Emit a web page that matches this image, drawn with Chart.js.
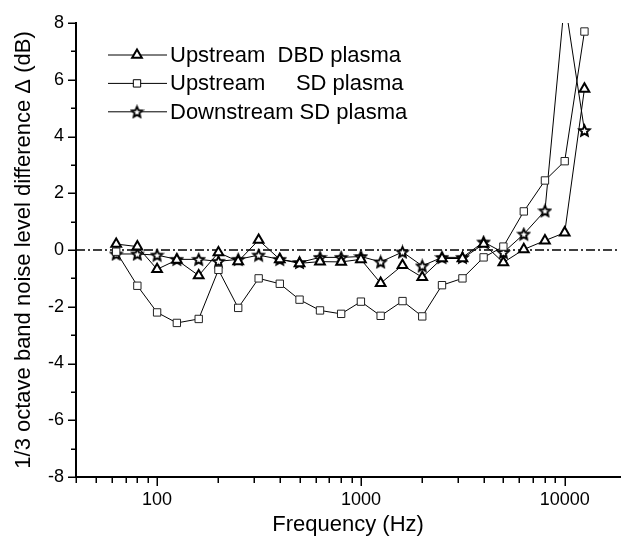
<!DOCTYPE html>
<html>
<head>
<meta charset="utf-8">
<script src="https://cdn.jsdelivr.net/npm/chart.js@4.4.0/dist/chart.umd.min.js"></script>
<style>
  html, body { margin: 0; padding: 0; background: #fff; }
</style>
</head>
<body>
<canvas id="noiseChart" width="628" height="540"></canvas>
<script>
// -- 1/3 octave band centre frequencies (Hz) --
const bandFreqs = [63, 80, 100, 125, 160, 200, 250, 315, 400, 500, 630, 800,
  1000, 1250, 1600, 2000, 2500, 3150, 4000, 5000, 6300, 8000, 10000, 12500];

// -- noise level difference (dB) per band --
const upstreamDBD = [0.21, 0.12, -0.68, -0.35, -0.9, -0.09, -0.4, 0.35, -0.33, -0.47, -0.41, -0.42,
  -0.33, -1.17, -0.54, -0.96, -0.3, -0.3, 0.21, -0.44, 0.02, 0.33, 0.61, 5.68];
const upstreamSD = [-0.06, -1.26, -2.2, -2.57, -2.43, -0.7, -2.04, -1.0, -1.19, -1.75, -2.13, -2.25,
  -1.82, -2.32, -1.8, -2.34, -1.24, -1.0, -0.26, 0.12, 1.36, 2.45, 3.13, 7.7];
const downstreamSD = [-0.14, -0.14, -0.18, -0.33, -0.33, -0.4, -0.33, -0.18, -0.33, -0.44, -0.26, -0.26,
  -0.23, -0.42, -0.07, -0.56, -0.26, -0.26, 0.28, -0.09, 0.56, 1.38, 8.8, 4.21];

// -- reference line at 0 dB across the whole axis --
const zeroLineFreqs = [40, 18700];
const zeroLineValues = [0, 0];

// -- axis ticks --
const xLabelledTicks = [100, 1000, 10000];
const xDecades = [10, 100, 1000];
const yRange = [-8, 8];
const yLabelStep = 2;

const legendLabels = [
  "Upstream  DBD plasma",
  "Upstream     SD plasma",
  "Downstream SD plasma",
];

const FONT = '"Liberation Sans", Arial, Helvetica, sans-serif';

function toPoints(xs, ys) {
  return xs.map((x, i) => ({ x: x, y: ys[i] }));
}

// -- hollow five point star used as marker --
function makeStar() {
  const c = document.createElement("canvas");
  c.width = 15;
  c.height = 15;
  const g = c.getContext("2d");
  g.beginPath();
  for (let i = 0; i < 10; i++) {
    const r = i % 2 === 0 ? 5.6 : 2.6;
    const a = -Math.PI / 2 + (i * Math.PI) / 5;
    const px = 7.5 + r * Math.cos(a);
    const py = 8 + r * Math.sin(a);
    if (i === 0) g.moveTo(px, py);
    else g.lineTo(px, py);
  }
  g.closePath();
  g.fillStyle = "#fff";
  g.fill();
  g.lineWidth = 1.9;
  g.lineJoin = "miter";
  g.strokeStyle = "#000";
  g.stroke();
  return c;
}
const starMarker = makeStar();

// -- x tick positions: 40..90, 100..900, 1000..9000, 10000 --
const xTickValues = [];
xDecades.forEach((d) => {
  for (let m = 1; m <= 9; m++) {
    if (d * m >= zeroLineFreqs[0]) xTickValues.push(d * m);
  }
});
xTickValues.push(10000);

const yTickValues = [];
for (let v = yRange[0]; v <= yRange[1]; v++) yTickValues.push(v);

// -- outward ticks, long on labelled values, short otherwise --
const axisTicks = {
  id: "axisTicks",
  afterDraw(chart) {
    const { ctx, chartArea, scales } = chart;
    ctx.save();
    ctx.strokeStyle = "#000";
    ctx.lineWidth = 1.5;
    ctx.beginPath();
    xTickValues.forEach((v) => {
      const px = Math.round(scales.x.getPixelForValue(v)) + 0.25;
      const len = xLabelledTicks.includes(v) ? 9 : 6;
      ctx.moveTo(px, chartArea.bottom);
      ctx.lineTo(px, chartArea.bottom + len);
    });
    yTickValues.forEach((v) => {
      const py = Math.round(scales.y.getPixelForValue(v)) + 0.25;
      const len = v % yLabelStep === 0 ? 8 : 5;
      ctx.moveTo(chartArea.left + 1, py);
      ctx.lineTo(chartArea.left - len, py);
    });
    ctx.stroke();
    ctx.restore();
  },
};

// -- legend drawn inside the plot, top left --
const insideLegend = {
  id: "insideLegend",
  afterDraw(chart) {
    const ctx = chart.ctx;
    ctx.save();
    legendLabels.forEach((label, i) => {
      const ds = chart.data.datasets[i];
      const y = 55 + i * 28.4;
      ctx.strokeStyle = "#000";
      ctx.lineWidth = 1;
      ctx.beginPath();
      ctx.moveTo(108, y);
      ctx.lineTo(167, y);
      ctx.stroke();
      ctx.fillStyle = "#fff";
      ctx.lineWidth = ds.pointBorderWidth;
      Chart.helpers.drawPoint(ctx, {
        pointStyle: ds.pointStyle,
        radius: ds.pointRadius,
        borderWidth: ds.pointBorderWidth,
        rotation: 0,
      }, 137, y);
      ctx.fillStyle = "#000";
      ctx.font = "22px " + FONT;
      ctx.textBaseline = "middle";
      ctx.textAlign = "left";
      ctx.fillText(label, 170, y + 1);
    });
    ctx.restore();
  },
};

const ctx = document.getElementById("noiseChart").getContext("2d");

new Chart(ctx, {
  type: "line",
  data: {
    datasets: [
      {
        label: legendLabels[0],
        data: toPoints(bandFreqs, upstreamDBD),
        borderColor: "#000",
        borderWidth: 1,
        pointStyle: "triangle",
        pointRadius: 5.6,
        pointBorderWidth: 2,
        pointBackgroundColor: "#fff",
        pointBorderColor: "#000",
      },
      {
        label: legendLabels[1],
        data: toPoints(bandFreqs, upstreamSD),
        borderColor: "#000",
        borderWidth: 1,
        pointStyle: "rect",
        pointRadius: 5.2,
        pointBorderWidth: 1,
        pointBackgroundColor: "#fff",
        pointBorderColor: "#222",
      },
      {
        label: legendLabels[2],
        data: toPoints(bandFreqs, downstreamSD),
        borderColor: "#000",
        borderWidth: 1,
        pointStyle: starMarker,
        pointRadius: 6,
        pointBorderWidth: 1.9,
        pointBackgroundColor: "#fff",
        pointBorderColor: "#000",
      },
      {
        label: "zero",
        data: toPoints(zeroLineFreqs, zeroLineValues),
        borderColor: "#000",
        borderWidth: 1.4,
        borderDash: [9, 3, 2, 3],
        pointRadius: 0,
      },
    ],
  },
  options: {
    responsive: false,
    animation: false,
    events: [],
    layout: { padding: { top: 23, right: 0, bottom: 0, left: 0 } },
    plugins: {
      legend: { display: false },
      tooltip: { enabled: false },
    },
    scales: {
      x: {
        type: "logarithmic",
        min: zeroLineFreqs[0],
        max: zeroLineFreqs[1],
        afterBuildTicks: (scale) => {
          scale.ticks = xTickValues.map((v) => ({ value: v }));
        },
        afterFit: (scale) => {
          scale.height = 63;
        },
        border: { display: true, color: "#000", width: 2 },
        grid: {
          drawOnChartArea: false,
          tickLength: 9,
          tickColor: "rgba(0,0,0,0)",
        },
        ticks: {
          autoSkip: false,
          maxRotation: 0,
          padding: 3,
          color: "#000",
          font: { family: FONT, size: 18 },
          callback: (value) =>
            xLabelledTicks.includes(value) ? String(value) : "",
        },
        title: {
          display: true,
          text: "Frequency (Hz)",
          color: "#000",
          font: { family: FONT, size: 22 },
          padding: { top: 0, bottom: 2 },
        },
      },
      y: {
        min: yRange[0],
        max: yRange[1],
        afterFit: (scale) => {
          scale.width = 76;
        },
        border: { display: true, color: "#000", width: 2 },
        grid: {
          drawOnChartArea: false,
          tickLength: 8,
          tickColor: "rgba(0,0,0,0)",
        },
        ticks: {
          stepSize: 1,
          autoSkip: false,
          padding: 4,
          color: "#000",
          font: { family: FONT, size: 18 },
          callback: (value) => (value % yLabelStep === 0 ? String(value) : ""),
        },
        title: {
          display: true,
          text: "1/3 octave band noise level difference \u0394 (dB)",
          color: "#000",
          font: { family: FONT, size: 22 },
          padding: { top: 11, bottom: 0 },
        },
      },
    },
  },
  plugins: [axisTicks, insideLegend],
});
</script>
</body>
</html>
